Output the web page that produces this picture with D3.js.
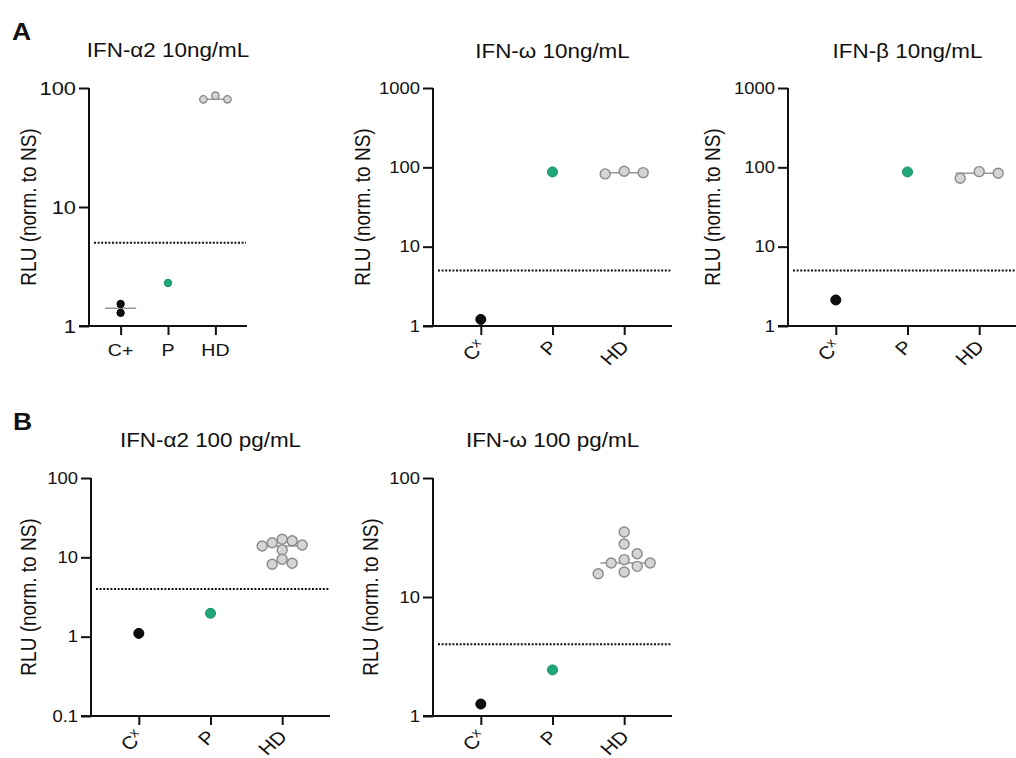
<!DOCTYPE html>
<html><head><meta charset="utf-8">
<script src="https://cdn.jsdelivr.net/npm/d3@7"></script>
<style>
body{margin:0;background:#fff}
text{font-family:"Liberation Sans",Arial,Helvetica,sans-serif;fill:#111}
</style></head>
<body><svg id="c" width="1016" height="758"></svg>
<script>
// ---------------- DATA ----------------
const titles = ["IFN-α2 10ng/mL", "IFN-ω 10ng/mL", "IFN-β 10ng/mL", "IFN-α2 100 pg/mL", "IFN-ω 100 pg/mL"];
const panelLetters = ["A", "B"];
const yLabel = "RLU (norm. to NS)";
const catsA1 = ["C+", "P", "HD"];
const catsOther = ["Cx", "P", "HD"];
const yDomains = [[1, 100], [1, 1000], [1, 1000], [0.1, 100], [1, 100]];
const thresholds = [5, 5, 5, 4, 4];

const a1C = [1.53, 1.29], a1P = [2.3], a1HD = [80.3, 86.1, 80.3];
const a2C = [1.21], a2P = [87.5], a2HD = [82.6, 89.3, 85.7];
const a3C = [2.13], a3P = [87.5], a3HD = [72.8, 88.3, 84.3];
const b1C = [1.10], b1P = [1.97], b1HD = [14.3, 15.3, 16.9, 12.4, 13.9, 16.2, 9.46, 8.18, 8.43];
const b2C = [1.26], b2P = [2.44], b2HD = [35.2, 27.9, 19.3, 15.7, 19.3, 20.6, 16.2, 23.1, 18.1];

const groupValues = [
  [a1C, a1P, a1HD],
  [a2C, a2P, a2HD],
  [a3C, a3P, a3HD],
  [b1C, b1P, b1HD],
  [b2C, b2P, b2HD]
];

// ---------------- LAYOUT / STYLE ----------------
const SX = 1.15;
const groupStyle = [
  {fill: "#0d0d0d", stroke: "#000", sw: 1},
  {fill: "#20a77b", stroke: "#18916a", sw: 1},
  {fill: "#d5d5d5", stroke: "#8a8a8a", sw: 1.4}
];
const layouts = [
  {left: 89, right: 247, top: 88, bottom: 326, r: 3.7, Dx: 12, Dy: 8, tickFont: 19, xFont: 17, rot: false, titleY: 57, ylabX: 36},
  {left: 433, right: 672, top: 88, bottom: 326, r: 5, Dx: 19, Dy: 10, tickFont: 16, xFont: 18, rot: true, titleY: 58, ylabX: 370},
  {left: 788, right: 1027, top: 88, bottom: 326, r: 5, Dx: 19, Dy: 10, tickFont: 16, xFont: 18, rot: true, titleY: 58, ylabX: 720},
  {left: 91, right: 330, top: 478, bottom: 716, r: 5, Dx: 10, Dy: 9, tickFont: 16, xFont: 18, rot: true, titleY: 447, ylabX: 36},
  {left: 433, right: 672, top: 478, bottom: 716, r: 5, Dx: 13, Dy: 11, tickFont: 16, xFont: 18, rot: true, titleY: 447, ylabX: 378}
];
const letterPos = [{x: 12, y: 40}, {x: 13, y: 430}];

const svg = d3.select("#c");

function txt(g, x, y, s, o) {
  const t = g.append("text")
    .attr("transform", `translate(${x},${y}) scale(${SX},1) rotate(${o.rot || 0})`)
    .attr("font-size", o.size)
    .attr("text-anchor", o.anchor || "start")
    .attr("font-weight", o.weight || "normal");
  if (s === "Cx") {
    t.append("tspan").text("C");
    t.append("tspan").text("x").attr("font-size", o.size * 0.7).attr("dy", "-0.5em");
  } else t.text(s);
  return t;
}

function swarm(vals, y, Dx, Dy) {
  const order = vals.map((v, i) => ({v, i, y: y(v)})).sort((a, b) => b.v - a.v);
  const placed = [];
  for (const p of order) {
    for (let k = 0; k < 200; k++) {
      const off = k === 0 ? 0 : (k % 2 ? 1 : -1) * Math.ceil(k / 2) * Dx / 2;
      if (placed.every(q => Math.abs(q.y - p.y) >= Dy || Math.abs(q.off - off) >= Dx - 1e-6)) { p.off = off; break; }
    }
    placed.push(p);
  }
  return order;
}

const fmt = d => d < 1 ? String(d) : d3.format("d")(d);

layouts.forEach((L, pi) => {
  const g = svg.append("g");
  const cats = pi === 0 ? catsA1 : catsOther;
  const y = d3.scaleLog().domain(yDomains[pi]).range([L.bottom, L.top]);
  const x = d3.scalePoint().domain(cats).range([L.left, L.right]).padding(0.667);
  const ticks = [];
  for (let v = yDomains[pi][0]; v <= yDomains[pi][1] * 1.0001; v *= 10) ticks.push(+v.toPrecision(3));

  // threshold
  g.append("line")
    .attr("x1", L.left + 5).attr("x2", L.right - 1)
    .attr("y1", y(thresholds[pi])).attr("y2", y(thresholds[pi]))
    .attr("stroke", "#111").attr("stroke-width", 2).attr("stroke-dasharray", "2,1.6");

  // axes
  const ya = g.append("g").attr("transform", `translate(${L.left},0)`)
    .call(d3.axisLeft(y).tickValues(ticks).tickFormat(fmt).tickSize(10).tickSizeOuter(0));
  const xa = g.append("g").attr("transform", `translate(0,${L.bottom})`)
    .call(d3.axisBottom(x).tickSize(9).tickSizeOuter(0).tickFormat(""));
  [ya, xa].forEach(a => {
    a.attr("font-size", null).attr("font-family", null);
    a.select(".domain").attr("stroke", "#111").attr("stroke-width", 2);
    a.selectAll(".tick line").attr("stroke", "#111").attr("stroke-width", 2);
  });
  xa.select(".domain").attr("d", `M${L.left - 10},0H${L.right}`);
  ya.select(".domain").attr("d", `M0,${L.top}V${L.bottom}`);
  ya.selectAll(".tick text")
    .attr("font-size", L.tickFont)
    .attr("fill", "#111")
    .attr("x", -13 / SX)
    .attr("transform", `scale(${SX},1)`);

  // x labels
  cats.forEach(c => {
    if (!L.rot) txt(g, x(c), L.bottom + 30, c, {size: L.xFont, anchor: "middle"});
    else txt(g, x(c) + 6, L.bottom + 22, c, {size: L.xFont, anchor: "end", rot: -45});
  });

  // title, y label
  txt(g, (L.left + L.right) / 2, L.titleY, titles[pi], {size: 19.5, anchor: "middle"});
  txt(g, L.ylabX, (L.top + L.bottom) / 2, yLabel, {size: 19, anchor: "middle", rot: -90});

  // points
  const step = x.step();
  groupValues[pi].forEach((vals, gi) => {
    const cx = x(cats[gi]);
    if (vals.length > 1) {
      const m = d3.median(vals);
      g.append("line").attr("x1", cx - step * 0.33).attr("x2", cx + step * 0.33)
        .attr("y1", y(m)).attr("y2", y(m))
        .attr("stroke", "#999").attr("stroke-width", 1.5);
    }
    const pts = swarm(vals, y, L.Dx, L.Dy);
    const st = groupStyle[gi];
    g.selectAll(null).data(pts).join("circle")
      .attr("cx", d => cx + d.off).attr("cy", d => d.y).attr("r", L.r)
      .attr("fill", st.fill).attr("stroke", st.stroke).attr("stroke-width", st.sw);
  });
});

panelLetters.forEach((s, i) => txt(svg, letterPos[i].x, letterPos[i].y, s, {size: 23, weight: "bold"}));
</script>
</body></html>
